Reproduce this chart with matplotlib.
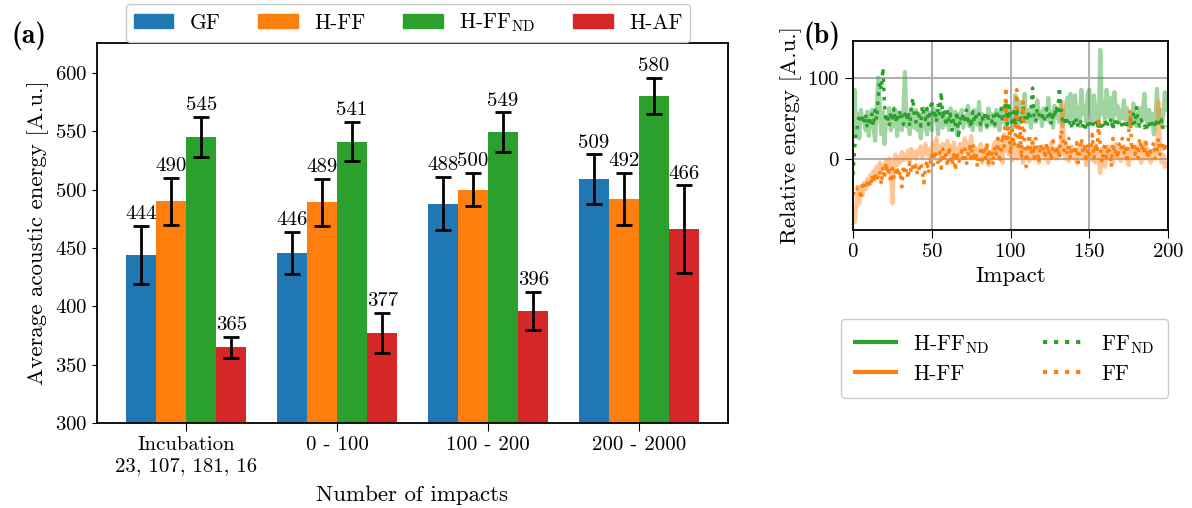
import numpy as np
import matplotlib
matplotlib.use("Agg")
import matplotlib.pyplot as plt
from matplotlib.patches import Patch
from matplotlib.lines import Line2D

plt.rcParams['font.family'] = 'serif'
plt.rcParams['font.serif'] = ['cmr10']
plt.rcParams['mathtext.fontset'] = 'cm'
plt.rcParams['axes.formatter.use_mathtext'] = True
plt.rcParams['axes.linewidth'] = 1.3

# ---------------- Data panel (a) ----------------
groups = ["Incubation\n23, 107, 181, 16", "0 - 100", "100 - 200", "200 - 2000"]
series_names = ["GF", "H-FF", r"H-FF$_{\mathrm{ND}}$", "H-AF"]
colors = ["#1f77b4", "#ff7f0e", "#2ca02c", "#d62728"]
gf = [444, 446, 488, 509]
h_ff = [490, 489, 500, 492]
h_ff_nd = [545, 541, 549, 580]
h_af = [365, 377, 396, 466]
gf_err = [25, 18, 23, 21]
h_ff_err = [20, 20, 14, 22]
h_ff_nd_err = [17.5, 17, 17, 15.5]
h_af_err = [9, 17, 16.5, 37.5]

# ---------------- Data panel (b) ----------------
h_ff_nd_rel = [38, 85, 30, 55, 25, 60, 45, 50, 35, 58,
               28, 48, 60, 40, 22, 55, 100, 65, 30, 58,
               18, 50, 45, 62, 35, 55, 40, 60, 28, 52,
               45, 35, 58, 107, 40, 55, 30, 62, 45, 38,
               60, 35, 55, 25, 48, 62, 40, 30, 58, 45,
               35, 62, 48, 55, 30, 60, 45, 38, 55, 42,
               50, 35, 62, 48, 40, 58, 30, 55, 45, 60,
               38, 52, 45, 65, 40, 55, 35, 60, 48, 42,
               70, 35, 55, 45, 50, 38, 62, 42, 55, 48,
               40, 60, 50, 35, 58, 45, 65, 40, 52, 62,
               45, 55, 38, 78, 50, 42, 70, 55, 48, 80,
               45, 60, 50, 38, 65, 55, 45, 72, 50, 58,
               40, 62, 55, 48, 75, 45, 58, 38, 65, 50,
               55, 45, 68, 40, 60, 52, 75, 48, 80, 55,
               45, 78, 50, 62, 40, 85, 55, 65, 45, 80,
               85, 60, 45, 78, 50, 65, 40, 134, 55, 70,
               45, 85, 60, 50, 75, 40, 82, 55, 65, 45,
               60, 50, 72, 48, 62, 40, 55, 45, 68, 50,
               40, 55, 62, 45, 58, 80, 50, 42, 60, 48,
               55, 30, 50, 86, 45, 60, 40, 55, 82, 60]
ff_nd_rel = [-20, 10, 35, 40, 55, 45, 50, 42, 55, 38,
             52, 45, 55, 40, 60, 48, 75, 95, 85, 112,
             65, 45, 55, 40, 58, 50, 62, 45, 55, 48,
             60, 50, 42, 55, 48, 58, 40, 62, 75, 50,
             45, 60, 52, 40, 65, 55, 48, 62, 42, 58,
             72, 50, 60, 45, 68, 55, 82, 48, 62, 40,
             58, 45, 55, 35, 50, 42, 58, 25, 52, 45,
             55, 48, 60, 42, 50, 38, 58, 45, 52, 48,
             55, 42, 50, 45, 58, 40, 52, 48, 45, 55,
             42, 60, 48, 52, 62, 45, 55, 70, 42, 65,
             50, 45, 58, 40, 62, 48, 55, 42, 65, 50,
             45, 58, 48, 60, 87, 52, 45, 62, 55, 48,
             58, 45, 52, 62, 48, 55, 42, 58, 50, 65,
             55, 88, 60, 48, 42, 52, 45, 40, 48, 38,
             45, 40, 50, 38, 42, 48, 40, 45, 35, 42,
             48, 40, 45, 38, 42, 48, 35, 45, 40, 42,
             48, 38, 45, 42, 50, 35, 48, 40, 45, 42,
             38, 45, 40, 48, 42, 45, 50, 40, 55, 42,
             63, 45, 40, 48, 42, 38, 45, 35, 42, 48,
             40, 45, 38, 50, 42, 40, 48, 35, 38, 40]
h_ff_rel = [-75, -78, -60, -40, -55, -35, -45, -30, -38, -25,
            -32, -20, -28, -15, -25, -10, -20, -5, -15, -8,
            -12, -2, -15, 0, -10, -55, -5, 5, -8, 2,
            -5, 8, -2, 5, 0, 10, -3, 12, 2, 8,
            0, 10, 5, 15, 2, 8, 18, 5, 12, 0,
            10, 20, 5, 25, 8, 15, 0, 18, 5, 12,
            22, 5, 15, -2, 20, 8, 12, 0, 18, 5,
            15, 25, 8, 20, 2, 28, 10, 15, 0, 12,
            5, 18, -5, 10, 2, 15, -8, 8, 0, 12,
            20, 5, 25, 0, 15, -5, 30, 10, 20, 5,
            15, -2, 22, 8, 0, 18, 5, 12, -5, 10,
            2, 15, -3, 8, 20, 0, 10, 5, -5, 12,
            5, 15, 0, 10, -5, 8, 20, 2, 12, 0,
            8, 15, 5, 70, 10, 0, 12, -3, 8, 15,
            2, 10, -5, 12, 5, 18, 0, 8, -8, 10,
            5, 15, -2, 10, -5, 8, 0, -18, 12, 5,
            -10, 8, 15, 0, 10, -5, 5, 18, 2, 12,
            -3, 8, 15, 0, 10, -8, 5, 12, 0, 8,
            15, 2, 10, -5, 8, 20, 0, 12, 5, -5,
            10, 0, 15, 5, 70, 10, -5, 5, -10, -8]
ff_rel = [-45, -40, -42, -35, -38, -50, -30, -35, -28, -32,
          -25, -35, -20, -30, -18, -28, -22, -15, -32, -10,
          -25, -5, -20, -15, -30, -12, -25, -18, -10, -22,
          -15, -35, -8, -20, -12, -25, -5, -18, -10, -15,
          -8, -20, -12, -5, -15, -30, -10, -2, -18, -5,
          5, -8, 10, 0, -5, 8, -12, 12, -3, 5,
          -10, 15, 2, -8, 5, -15, 8, -5, 0, 10,
          -5, 12, -8, 5, 15, 0, 18, -3, 8, -10,
          5, 10, -2, 15, 0, 20, -5, 8, 12, -8,
          15, 5, 25, -5, 10, 30, 15, 88, 20, 40,
          5, 35, 15, 25, 85, 10, 40, 0, 70, 20,
          -10, 15, 30, 5, 20, 0, 25, 10, -5, 18,
          8, 15, 0, 20, 5, 12, -3, 22, 10, 5,
          15, 0, 35, 30, 10, 20, 5, 25, 0, 15,
          10, 5, 20, -5, 12, 25, 8, 15, 0, 18,
          5, 12, 30, 0, 20, 8, 50, 15, -5, 10,
          20, 0, 15, 8, -10, 25, 5, 12, 0, 18,
          10, 25, 5, 15, -5, 30, 60, 10, 20, 5,
          15, 0, 25, 10, 18, 5, 20, 0, 12, 8,
          15, 20, 0, 10, 25, 5, 12, 20, 8, 20]
impacts = np.arange(len(h_ff_rel))

fig = plt.figure(figsize=(11.92, 5.08), dpi=100)
ax = fig.add_axes([97/1192, 1-423/508, (728-97)/1192, (423-43)/508])
axb = fig.add_axes([853/1192, 1-230/508, (1168-853)/1192, (230-41)/508])

TICK = 15
LAB = 16.5
ANN = 15
LEG = 15.5

# ---- panel (a)
x = np.arange(len(groups))
w = 0.2
vals = [gf, h_ff, h_ff_nd, h_af]
errs = [gf_err, h_ff_err, h_ff_nd_err, h_af_err]
for i, (v, e, c, n) in enumerate(zip(vals, errs, colors, series_names)):
    pos = x + (i - 1.5) * w
    ax.bar(pos, v, w, color=c, label=n)
    ax.errorbar(pos, v, yerr=e, fmt='none', ecolor='black', elinewidth=2,
                capsize=6, capthick=2)
    for p, vv, ee in zip(pos, v, e):
        ax.annotate(f"{vv}", (p, vv + ee), xytext=(0, 2), textcoords='offset points',
                    ha='center', va='bottom', fontsize=ANN)
ax.set_ylim(300, 625.5)
ax.set_xlim(-0.59, 3.59)
ax.set_xticks(x)
ax.set_xticklabels(groups, fontsize=TICK)
ax.tick_params(axis='y', labelsize=TICK)
ax.tick_params(axis='x', length=6)
ax.set_ylabel("Average acoustic energy [A.u.]", fontsize=LAB)
ax.set_xlabel("Number of impacts", fontsize=LAB, labelpad=8)

handles_a = [Patch(color=c, label=n) for c, n in zip(colors, series_names)]
fig.legend(handles=handles_a, loc='upper center', bbox_to_anchor=(408/1192, 1-4/508),
           ncol=4, fontsize=LEG, handlelength=1.85, handleheight=0.6,
           columnspacing=1.75, handletextpad=0.75, borderpad=0.35, borderaxespad=0,
           framealpha=1, edgecolor='#cccccc')

fig.text(11/1192, 1-36/508, "(a)", fontsize=20, family='cmb10', va='center', ha='left')

# ---- panel (b)
green, orange = "#2ca02c", "#ff7f0e"
axb.plot(impacts, h_ff_nd_rel, color=green, lw=3, alpha=0.45)
axb.plot(impacts, h_ff_rel, color=orange, lw=3, alpha=0.45)
axb.plot(impacts, ff_nd_rel, color=green, lw=2.5, ls=':')
axb.plot(impacts, ff_rel, color=orange, lw=2.5, ls=':')
axb.set_xlim(0, 200)
axb.set_ylim(-88, 145)
axb.set_xticks([0, 50, 100, 150, 200])
axb.set_yticks([0, 100])
axb.grid(True, color='#b0b0b0', lw=1.5)
axb.set_axisbelow(True)
axb.tick_params(labelsize=TICK, length=6)
axb.set_xlabel("Impact", fontsize=LAB)
axb.set_ylabel("Relative energy [A.u.]", fontsize=LAB)
fig.text(803/1192, 1-36/508, "(b)", fontsize=20, family='cmb10', va='center', ha='left')

handles_b = [Line2D([], [], color=green, lw=3, label=r"H-FF$_{\mathrm{ND}}$"),
             Line2D([], [], color=orange, lw=3, label="H-FF"),
             Line2D([], [], color=green, lw=3, ls=':', label=r"FF$_{\mathrm{ND}}$"),
             Line2D([], [], color=orange, lw=3, ls=':', label="FF")]
fig.legend(handles=handles_b, loc='upper center', bbox_to_anchor=(1004.5/1192, 1-319/508),
           ncol=2, fontsize=LEG, handlelength=1.9, labelspacing=0.4, borderpad=0.65,
           columnspacing=2.5, handletextpad=0.8, borderaxespad=0,
           framealpha=1, edgecolor='#cccccc')

fig.savefig("out.png", dpi=100)
